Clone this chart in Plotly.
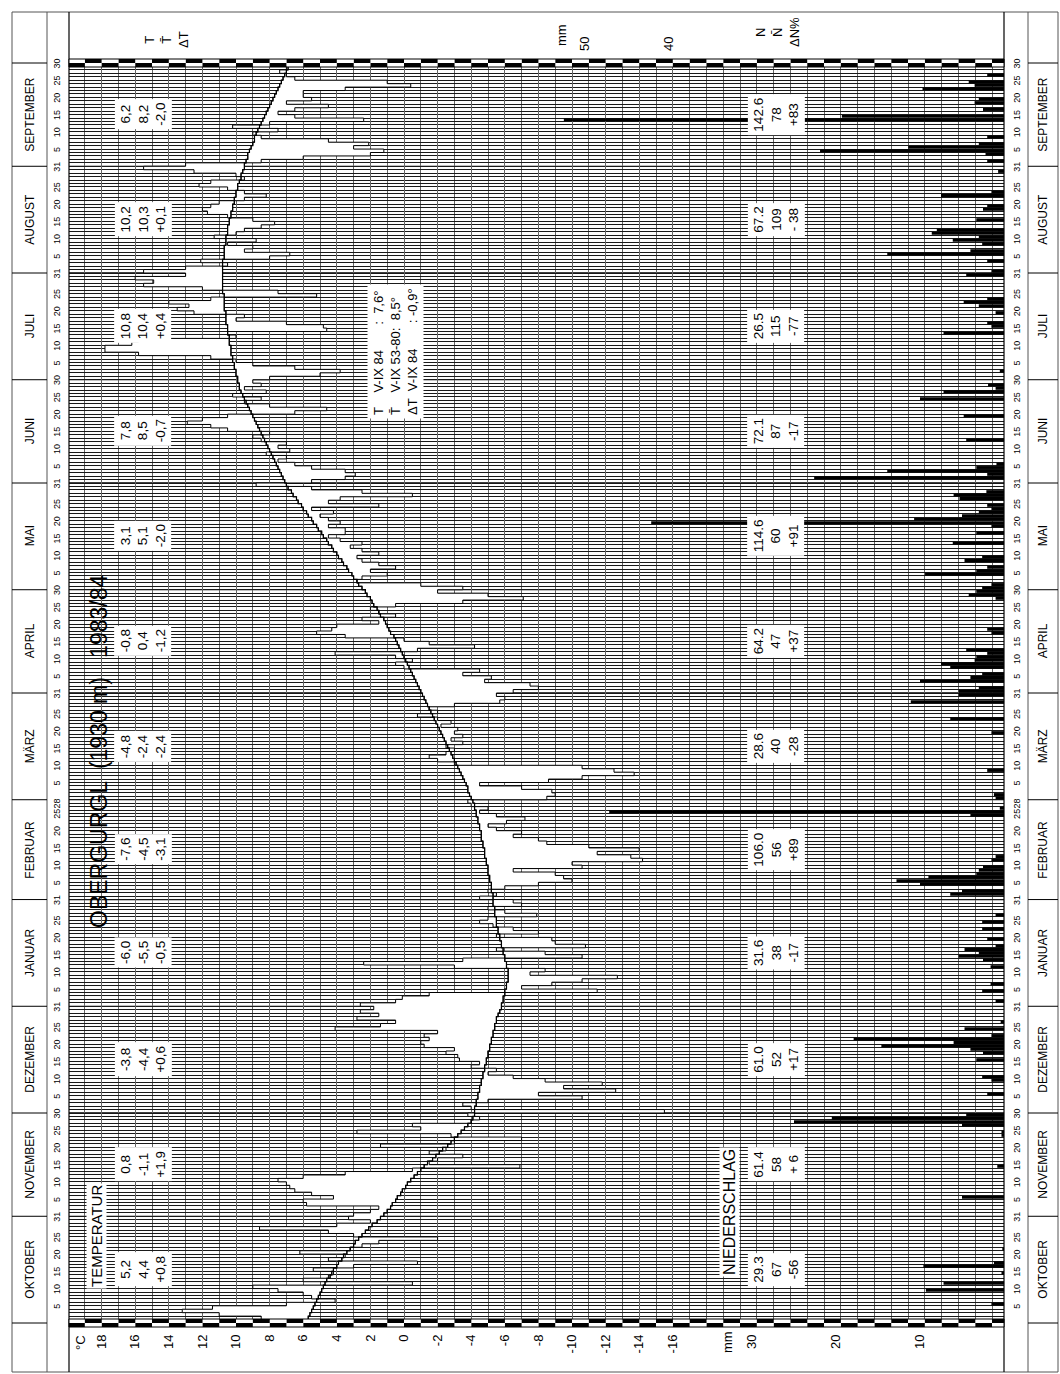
import plotly.graph_objects as go

# ---------------- data ----------------
months = ["OKTOBER", "NOVEMBER", "DEZEMBER", "JANUAR", "FEBRUAR", "MÄRZ",
          "APRIL", "MAI", "JUNI", "JULI", "AUGUST", "SEPTEMBER"]
month_days = [31, 30, 31, 31, 29, 31, 30, 31, 30, 31, 31, 30]
month_last_label = ["31", "30", "31", "31", "28", "31", "30", "31", "30", "31", "31", "30"]
day_ticks = [5, 10, 15, 20, 25]

# daily mean temperature 1983/84 (deg C)
temp_okt = [7.2, 8.5, 11.0, 13.2, 11.4, 7.0, 4.1, 5.5, 6.0, 7.5, 9.0, -0.5, 6.0, 4.5, 4.2, 5.4,
            3.0, -0.8, 4.5, 3.5, 6.2, 3.2, 2.5, 1.5, -2.0, 3.0, 4.5, 8.6, 4.0, 2.0, 3.3]
temp_nov = [3.0, 2.0, 1.5, 5.8, 6.0, 4.2, 5.5, 6.5, 6.8, 7.0, 7.5, 6.0, 3.5, -0.5, -6.9,
            -1.5, -2.0, -3.5, -1.5, -2.5, 1.4, -3.0, -7.0, -2.8, 2.8, -1.0, -0.5, -4.0, -4.5, -3.8]
temp_dez = [-15.5, -4.0, -3.5, -5.0, -10.6, -8.0, -12.6, -9.5, -11.8, -8.4, -6.5, -5.0, -5.5,
            -4.0, -4.5, -3.3, -3.2, -2.5, -3.0, -1.2, -1.0, -1.5, -1.2, -2.0, 4.1, 1.4, 0.5,
            2.8, 1.5, 2.6, 1.8]
temp_jan = [2.6, 0.5, 0.1, -1.5, -11.5, -7.0, -8.8, -10.6, -12.7, -7.5, -8.4, -3.0, 2.4,
            -3.5, -10.6, -8.4, -5.5, -10.8, -9.0, -8.8, -5.5, -8.0, -6.5, -5.3, -4.5, -5.0,
            -7.9, -6.0, -5.0, -7.0, -6.5]
temp_feb = [-4.5, -5.5, -5.0, -6.0, -8.0, -10.0, -9.5, -9.0, -6.5, -10.6, -10.0, -14.2,
            -13.5, -11.5, -14.0, -11.0, -8.5, -8.0, -6.5, -7.0, -5.5, -5.0, -6.1, -7.2, -5.5,
            -4.5, -5.0, -4.0, -3.8]
temp_mar = [-8.5, -9.0, -8.8, -7.0, -4.5, -8.6, -10.6, -13.7, -12.5, -10.6, -3.0, -2.0,
            -1.5, -2.5, -3.0, -2.5, -3.5, -2.8, -3.5, -3.0, -3.2, -2.2, -2.8, -2.0, -0.8,
            -2.0, -1.5, -3.0, -5.7, -6.0, -5.5]
temp_apr = [-6.5, -8.0, -7.5, -4.8, -5.2, -3.5, -4.5, 0.0, 0.5, -0.5, 0.5, 4.1, -0.8, -4.2,
            -1.5, 0.0, 3.5, 5.2, 4.3, 4.0, 1.5, 2.5, 0.5, 1.5, 2.0, 0.5, -3.5, -7.1, -5.0, -2.0]
temp_mai = [-3.5, -1.0, 2.8, 2.5, 1.0, 2.0, 0.5, 1.5, 2.5, 2.8, 1.5, 2.5, 3.2, 2.5, 3.8,
            4.5, 3.5, 3.5, 4.5, 3.8, 4.5, 5.0, 4.2, 5.5, 1.5, 4.5, 3.8, -0.5, 2.5, 5.5, 8.8]
temp_jun = [5.5, 3.5, 2.9, 3.5, 5.5, 6.5, 7.5, 7.0, 8.2, 6.8, 7.5, 7.0, 8.5, 9.0, 8.0, 10.5,
            11.5, 12.9, 12.0, 10.5, 6.5, 4.6, 8.0, 9.5, 8.5, 10.2, 8.2, 9.5, 8.5, 9.0]
temp_jul = [8.0, 5.0, 3.8, 6.5, 9.0, 10.0, 11.5, 15.8, 17.8, 17.8, 16.2, 15.8, 10.0, 10.5,
            4.6, 4.8, 7.0, 10.0, 9.5, 12.5, 13.5, 12.8, 14.0, 11.5, 5.2, 7.5, 12.0, 15.5,
            14.9, 16.0, 13.0]
temp_aug = [15.5, 13.0, 10.5, 12.1, 8.0, 6.8, 9.5, 9.0, 10.5, 8.8, 11.3, 10.0, 9.5, 8.5,
            7.7, 9.0, 10.5, 11.7, 12.0, 11.5, 11.0, 9.5, 8.2, 9.5, 10.5, 12.2, 11.5, 9.5,
            10.0, 12.5, 15.5]
temp_sep = [13.0, 8.5, 6.0, 2.0, 1.2, 3.0, 2.1, 4.5, 8.5, 9.0, 7.5, 10.2, 8.0, 2.4, 6.5,
            7.5, 6.5, 4.5, 7.0, 5.5, 6.0, 6.0, 3.5, -0.4, 1.0, 6.5, 7.0, 7.4, 7.0, 8.0]

# long-term daily normal 1953-80 (deg C)
normal_okt = [5.8, 5.7, 5.6, 5.5, 5.4, 5.3, 5.2, 5.1, 5.0, 4.9, 4.8, 4.7, 4.6, 4.4, 4.3, 4.2,
              4.0, 3.9, 3.7, 3.6, 3.4, 3.2, 3.0, 2.9, 2.7, 2.5, 2.3, 2.1, 1.9, 1.6, 1.4]
normal_nov = [1.2, 1.0, 0.8, 0.7, 0.5, 0.4, 0.2, 0.1, -0.1, -0.2, -0.4, -0.6, -0.8, -1.0,
              -1.2, -1.4, -1.7, -1.9, -2.1, -2.3, -2.6, -2.8, -3.0, -3.2, -3.4, -3.6, -3.8,
              -4.0, -4.1, -4.2]
normal_dez = [-4.2, -4.2, -4.3, -4.3, -4.4, -4.4, -4.5, -4.5, -4.6, -4.6, -4.7, -4.7, -4.8,
              -4.8, -4.9, -4.9, -5.0, -5.0, -5.1, -5.1, -5.2, -5.2, -5.3, -5.3, -5.4, -5.4,
              -5.5, -5.5, -5.6, -5.7, -5.8]
normal_jan = [-5.8, -5.9, -5.9, -6.0, -6.0, -6.1, -6.1, -6.2, -6.2, -6.2, -6.2, -6.1, -6.1,
              -6.0, -6.0, -5.9, -5.9, -5.8, -5.8, -5.7, -5.7, -5.6, -5.6, -5.5, -5.5, -5.5,
              -5.4, -5.4, -5.4, -5.3, -5.3]
normal_feb = [-5.3, -5.3, -5.2, -5.2, -5.2, -5.1, -5.1, -5.0, -5.0, -5.0, -4.9, -4.9, -4.8,
              -4.8, -4.8, -4.7, -4.7, -4.6, -4.6, -4.6, -4.5, -4.5, -4.4, -4.4, -4.3, -4.3,
              -4.2, -4.2, -4.1]
normal_mar = [-4.0, -3.9, -3.8, -3.8, -3.7, -3.6, -3.5, -3.4, -3.3, -3.2, -3.1, -3.0, -2.9,
              -2.8, -2.7, -2.6, -2.5, -2.4, -2.3, -2.2, -2.1, -2.0, -1.9, -1.8, -1.7, -1.6,
              -1.5, -1.4, -1.3, -1.2, -1.1]
normal_apr = [-1.0, -0.9, -0.8, -0.7, -0.6, -0.5, -0.4, -0.3, -0.2, -0.1, 0.0, 0.1, 0.2, 0.3,
              0.4, 0.5, 0.6, 0.8, 0.9, 1.0, 1.1, 1.2, 1.4, 1.5, 1.6, 1.8, 1.9, 2.0, 2.2, 2.3]
normal_mai = [2.5, 2.7, 2.8, 3.0, 3.1, 3.3, 3.4, 3.6, 3.7, 3.9, 4.0, 4.2, 4.3, 4.5, 4.6, 4.8,
              4.9, 5.1, 5.2, 5.4, 5.5, 5.7, 5.8, 6.0, 6.1, 6.3, 6.4, 6.6, 6.7, 6.9, 7.0]
normal_jun = [7.1, 7.2, 7.3, 7.4, 7.5, 7.6, 7.7, 7.8, 7.9, 8.0, 8.1, 8.2, 8.3, 8.4, 8.5, 8.6,
              8.7, 8.8, 8.9, 9.0, 9.1, 9.2, 9.3, 9.4, 9.5, 9.6, 9.7, 9.8, 9.8, 9.9]
normal_jul = [9.9, 10.0, 10.0, 10.1, 10.1, 10.2, 10.2, 10.3, 10.3, 10.3, 10.4, 10.4, 10.4,
              10.5, 10.5, 10.5, 10.6, 10.6, 10.6, 10.6, 10.7, 10.7, 10.7, 10.7, 10.7, 10.8,
              10.8, 10.8, 10.8, 10.8, 10.8]
normal_aug = [10.8, 10.8, 10.8, 10.8, 10.7, 10.7, 10.7, 10.7, 10.6, 10.6, 10.6, 10.5, 10.5,
              10.5, 10.4, 10.4, 10.3, 10.3, 10.2, 10.2, 10.1, 10.1, 10.0, 10.0, 9.9, 9.9,
              9.8, 9.7, 9.7, 9.6, 9.5]
normal_sep = [9.5, 9.4, 9.3, 9.3, 9.2, 9.1, 9.0, 8.9, 8.9, 8.8, 8.7, 8.6, 8.5, 8.4, 8.3, 8.2,
              8.1, 8.0, 7.9, 7.8, 7.7, 7.6, 7.5, 7.4, 7.3, 7.2, 7.1, 7.0, 6.9, 6.8]

# daily precipitation (mm), day of month -> amount
precip_okt = {6: 1.5, 10: 9.3, 12: 7.2, 15: 0.3, 17: 9.6, 18: 1.2, 22: 0.2}
precip_nov = {6: 5.0, 15: 0.8, 24: 0.3, 25: 0.3, 27: 5.0, 28: 25.0, 29: 20.5, 30: 4.5}
precip_dez = {6: 2.0, 10: 1.5, 11: 2.6, 16: 3.3, 18: 2.5, 19: 4.0, 20: 14.6, 21: 6.0,
              22: 17.9, 23: 1.5, 25: 4.7, 27: 0.4}
precip_jan = {2: 1.0, 5: 2.6, 7: 1.6, 12: 1.6, 14: 2.5, 15: 5.4, 16: 3.0, 17: 4.7, 18: 1.0,
              20: 2.0, 23: 2.6, 25: 2.6, 27: 1.0}
precip_feb = {2: 6.4, 3: 5.0, 5: 10.0, 6: 12.8, 7: 9.0, 8: 3.3, 9: 3.0, 10: 2.5, 12: 1.5,
              13: 1.0, 25: 4.0, 26: 47.0, 27: 0.5}
precip_mar = {1: 1.0, 2: 1.2, 9: 2.0, 20: 1.5, 24: 6.4, 29: 11.1, 31: 5.4}
precip_apr = {1: 5.4, 2: 3.0, 4: 10.0, 5: 4.0, 6: 2.6, 8: 6.4, 9: 7.5, 10: 3.5, 11: 3.3,
              12: 2.0, 13: 4.5, 18: 1.5, 19: 2.0, 28: 1.0, 29: 4.2, 30: 3.3}
precip_mai = {1: 2.6, 2: 1.5, 5: 9.4, 6: 3.3, 7: 2.0, 9: 4.7, 10: 2.6, 14: 6.1, 17: 3.3,
              19: 1.5, 20: 42.0, 21: 10.7, 22: 5.0, 23: 3.0, 24: 1.5, 25: 2.0, 27: 5.3,
              28: 6.0, 29: 2.1}
precip_jun = {2: 22.6, 3: 2.0, 4: 13.9, 5: 3.3, 6: 0.9, 13: 4.5, 20: 4.8, 25: 10.0, 27: 7.2,
              28: 1.0, 29: 1.9}
precip_jul = {3: 0.5, 14: 7.2, 16: 1.5, 17: 2.0, 20: 1.0, 22: 3.0, 23: 4.8, 24: 2.0, 31: 4.5}
precip_aug = {1: 1.5, 4: 2.0, 6: 13.9, 7: 4.0, 9: 2.6, 10: 6.1, 11: 3.0, 12: 8.6, 13: 8.0,
              16: 3.3, 19: 2.5, 20: 2.0, 23: 7.5, 24: 1.5, 30: 0.7}
precip_sep = {2: 2.0, 4: 2.2, 5: 21.9, 6: 11.4, 7: 3.0, 9: 2.0, 14: 52.4, 15: 19.3, 17: 2.5,
              19: 3.5, 20: 3.0, 23: 9.7, 24: 3.5, 25: 4.2, 27: 2.0}

# monthly summary boxes
box_T = ["5,2", "0,8", "-3,8", "-6,0", "-7,6", "-4,8", "-0,8", "3,1", "7,8", "10,8", "10,2", "6,2"]
box_Tn = ["4,4", "-1,1", "-4,4", "-5,5", "-4,5", "-2,4", "0,4", "5,1", "8,5", "10,4", "10,3", "8,2"]
box_dT = ["+0,8", "+1,9", "+0,6", "-0,5", "-3,1", "-2,4", "-1,2", "-2,0", "-0,7", "+0,4", "+0,1", "-2,0"]
box_N = ["29.3", "61.4", "61.0", "31.6", "106.0", "28.6", "64.2", "114.6", "72.1", "26.5", "67.2", "142.6"]
box_Nn = ["67", "58", "52", "38", "56", "40", "47", "60", "87", "115", "109", "78"]
box_dN = ["-56", "+ 6", "+17", "-17", "+89", "-28", "+37", "+91", "-17", "-77", "- 38", "+83"]

temp_ticks = [18, 16, 14, 12, 10, 8, 6, 4, 2, 0, -2, -4, -6, -8, -10, -12, -14, -16]
precip_ticks_bottom = [30, 20, 10]
precip_ticks_top = [50, 40]

NB = "\u00a0"
summary_lines = ["T" + NB * 4 + "V-IX 84" + NB * 7 + ":" + NB * 2 + "7,6°",
                 "T\u0304" + NB * 4 + "V-IX 53-80:" + NB * 2 + "8,5°",
                 "\u0394T" + NB * 2 + "V-IX 84" + NB * 7 + ": -0,9°"]

# ---------------- assemble ----------------
temp_months = [temp_okt, temp_nov, temp_dez, temp_jan, temp_feb, temp_mar,
               temp_apr, temp_mai, temp_jun, temp_jul, temp_aug, temp_sep]
normal_months = [normal_okt, normal_nov, normal_dez, normal_jan, normal_feb, normal_mar,
                 normal_apr, normal_mai, normal_jun, normal_jul, normal_aug, normal_sep]
precip_months = [precip_okt, precip_nov, precip_dez, precip_jan, precip_feb, precip_mar,
                 precip_apr, precip_mai, precip_jun, precip_jul, precip_aug, precip_sep]

for m in range(12):
    assert len(temp_months[m]) == month_days[m], (m, len(temp_months[m]))
    assert len(normal_months[m]) == month_days[m], (m, len(normal_months[m]))

starts = []
acc = 0
for nd in month_days:
    starts.append(acc)
    acc += nd
n_days = acc

temps = [v for lst in temp_months for v in lst]
normals = [v for lst in normal_months for v in lst]
ys = list(range(n_days + 1))
tx = temps + [temps[-1]]
nx = normals + [normals[-1]]

pr_y, pr_x = [], []
for m, d in enumerate(precip_months):
    for day, mm in d.items():
        pr_y.append(starts[m] + day - 0.5)
        pr_x.append(mm)

tick_vals, tick_text = [], []
for m in range(12):
    for dd in day_ticks:
        tick_vals.append(starts[m] + dd - 0.5)
        tick_text.append(str(dd))
    last = int(month_last_label[m])
    tick_vals.append(starts[m] + last - 0.5)
    tick_text.append(month_last_label[m])

# ---------------- geometry (pixels) ----------------
W, H = 1060, 1374
L, R, T, B = 69, 1004, 63, 1323
PW, PH = R - L, B - T
PX_PER_C = 16.8
PX_PER_MM = 8.4
X0_PX = 404  # 0 deg C
t_left = (X0_PX - L) / PX_PER_C
t_right = t_left - PW / PX_PER_C
mm_left = PW / PX_PER_MM


def fx(px):
    return (px - L) / PW


def fy(py):
    return (B - py) / PH


FONT = "Liberation Sans, Arial, Helvetica, sans-serif"

fig = go.Figure()
fig.add_trace(go.Scatter(x=nx, y=ys, mode="lines", line=dict(color="black", width=1, shape="vh"),
                         hoverinfo="skip", showlegend=False))
fig.add_trace(go.Scatter(x=tx, y=ys, mode="lines", line=dict(color="black", width=1, shape="vh"),
                         fill="tonextx", fillcolor="white", hoverinfo="skip", showlegend=False))
fig.add_trace(go.Scatter(x=nx, y=ys, mode="lines", line=dict(color="black", width=1.2, shape="vh"),
                         hoverinfo="skip", showlegend=False))
fig.add_trace(go.Bar(x=pr_x, y=pr_y, orientation="h", base=0, width=0.85,
                     marker=dict(color="black", line=dict(width=0)),
                     xaxis="x2", yaxis="y2", hoverinfo="skip", showlegend=False))

shapes = []
# month boundaries in plot
for m in range(1, 12):
    shapes.append(dict(type="line", xref="paper", yref="y", x0=0, x1=1, y0=starts[m], y1=starts[m],
                       line=dict(color="black", width=1.3), layer="below"))
# frame
line_c = "#555"
shapes.append(dict(type="rect", xref="paper", yref="paper", x0=fx(12), x1=fx(1058), y0=fy(1372), y1=fy(12),
                   line=dict(color=line_c, width=1)))
for xp in [47, 1028]:
    shapes.append(dict(type="line", xref="paper", yref="paper", x0=fx(xp), x1=fx(xp), y0=fy(1372), y1=fy(12),
                       line=dict(color=line_c, width=1)))
for xp in [L, R]:
    shapes.append(dict(type="line", xref="paper", yref="paper", x0=fx(xp), x1=fx(xp), y0=fy(1372), y1=fy(12),
                       line=dict(color="black", width=1.2)))
bounds = starts + [n_days]
for b in bounds:
    yb = b / n_days
    shapes.append(dict(type="line", xref="paper", yref="paper", x0=fx(12), x1=fx(47), y0=yb, y1=yb,
                       line=dict(color="black", width=1)))
    shapes.append(dict(type="line", xref="paper", yref="paper", x0=fx(1028), x1=fx(1058), y0=yb, y1=yb,
                       line=dict(color="black", width=1)))
# checkerboard borders
for (ytop, ybot) in [(59, 67), (1319, 1327)]:
    ymid = (ytop + ybot) / 2
    k = -36
    while k < 20:
        x0 = max(k, t_right)
        x1 = min(k + 1, t_left)
        if x1 > x0:
            up = (k % 2 == 0)
            shapes.append(dict(type="rect", xref="x", yref="paper", x0=x0, x1=x1,
                               y0=fy(ymid) if up else fy(ybot), y1=fy(ytop) if up else fy(ymid),
                               fillcolor="black", line=dict(width=0), layer="above"))
            shapes.append(dict(type="rect", xref="x", yref="paper", x0=x0, x1=x1,
                               y0=fy(ybot) if up else fy(ymid), y1=fy(ymid) if up else fy(ytop),
                               fillcolor="white", line=dict(width=0), layer="above"))
        k += 1
    shapes.append(dict(type="rect", xref="paper", yref="paper", x0=0, x1=1, y0=fy(ybot), y1=fy(ytop),
                       line=dict(color="black", width=1), layer="above"))


def note(x, y, text, size=13, xref="paper", yref="paper", **kw):
    d = dict(x=x, y=y, xref=xref, yref=yref, text=text, showarrow=False, textangle=-90,
             xanchor="center", yanchor="middle",
             font=dict(size=size, family=FONT, color="black"))
    d.update(kw)
    return d


ann = []
for m in range(12):
    mid = starts[m] + month_days[m] / 2
    for xp in [30, 1043]:
        ann.append(note(fx(xp), mid, months[m], size=12, yref="y"))
    ann.append(note(fx(143), mid, f"{box_T[m]}<br>{box_Tn[m]}<br>{box_dT[m]}", yref="y",
                    bgcolor="white", borderpad=3, size=13.5))
    ann.append(note(fx(776), mid, f"{box_N[m]}<br>{box_Nn[m]}<br>{box_dN[m]}", yref="y",
                    bgcolor="white", borderpad=3, size=13.5))

ann += [
    note(fx(99), fy(752), "OBERGURGL  (1930 m)   1983/84", size=23),
    note(fx(96), fy(1236), "TEMPERATUR", size=15, bgcolor="white", borderpad=1),
    note(fx(729), fy(1212), "NIEDERSCHLAG", size=16, bgcolor="white", borderpad=1),
    note(fx(396), fy(352), "<br>".join(summary_lines), size=13, align="left",
         bgcolor="white", borderpad=3),
    note(fx(166), fy(40), "T<br>T\u0304<br>\u0394T", size=13),
    note(fx(777), fy(32), "N<br>N\u0304<br>\u0394N%", size=13),
    note(fx(80), fy(1343), "°C", size=13),
    note(fx(727), fy(1342), "mm", size=13),
    note(fx(561), fy(35), "mm", size=13),
]
for v in precip_ticks_top:
    ann.append(note(v, fy(44), str(v), size=13, xref="x2"))

fig.update_layout(
    width=W, height=H,
    margin=dict(l=L, r=W - R, t=T, b=H - B),
    paper_bgcolor="white", plot_bgcolor="white", showlegend=False,
    font=dict(family=FONT, color="black"),
    xaxis=dict(range=[t_left, t_right], tickmode="array", tickvals=temp_ticks,
               ticktext=[str(v) for v in temp_ticks], tickangle=-90, ticks="",
               ticklabelstandoff=8, tickfont=dict(size=13),
               showgrid=True, gridcolor="#666", gridwidth=1, zeroline=False, showline=False,
               minor=dict(tickmode="linear", tick0=0, dtick=1, showgrid=True, gridcolor="#666",
                          gridwidth=1, ticks="")),
    xaxis2=dict(overlaying="x", side="bottom", range=[mm_left, 0], tickmode="array",
                tickvals=precip_ticks_bottom, ticktext=[str(v) for v in precip_ticks_bottom],
                tickangle=-90, ticks="", ticklabelstandoff=8, tickfont=dict(size=13),
                showgrid=False, zeroline=False, showline=False),
    yaxis=dict(range=[0, n_days], tickmode="array", tickvals=tick_vals, ticktext=tick_text,
               tickangle=-90, ticks="", tickfont=dict(size=9), showgrid=False, zeroline=False,
               showline=False, ticklabelstandoff=6,
               minor=dict(tickmode="linear", tick0=0, dtick=1, showgrid=True, gridcolor="#1a1a1a",
                          gridwidth=1, ticks="")),
    yaxis2=dict(overlaying="y", side="right", range=[0, n_days], tickmode="array",
                tickvals=tick_vals, ticktext=tick_text, tickangle=-90, ticks="",
                tickfont=dict(size=9), showgrid=False, zeroline=False, showline=False,
                ticklabelstandoff=6),
    shapes=shapes,
    annotations=ann,
)

fig.write_html("out.html",
               config={"displayModeBar": False, "staticPlot": True},
               post_script="document.body.style.margin='0';"
                           "document.body.style.padding='0';"
                           "document.documentElement.style.overflow='hidden';"
                           "document.body.style.overflow='hidden';")
